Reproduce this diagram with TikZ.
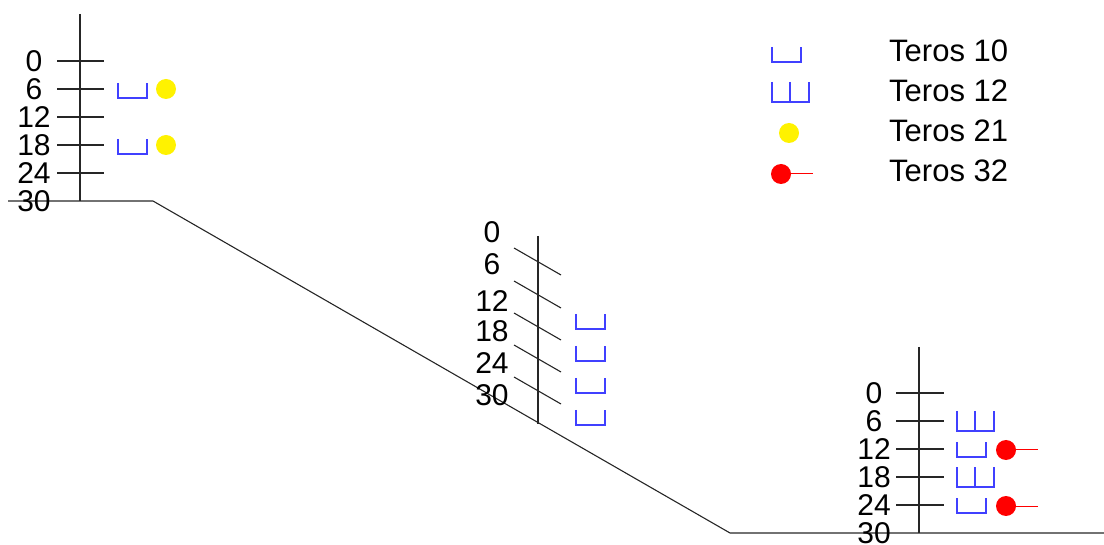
\documentclass[tikz,border=0pt]{standalone}
\usepackage{fontspec}
\setmainfont{Liberation Sans}
\definecolor{terosblue}{RGB}{64,64,255}
\tikzset{
    ground/.style={line width=1.1pt, black!85},
    sensor/.style={line width=1.4pt, terosblue},
    depth/.style={font=\fontsize{30}{30}\selectfont, inner sep=0pt},
    legendtext/.style={font=\fontsize{31}{31}\selectfont, inner sep=0pt, anchor=base west},
    teros ten/.pic={\draw[sensor] (0,0) -- (0,15) -- (29,15) -- (29,0);},
    teros twelve/.pic={\draw[sensor] (0,0) -- (0,20) -- (37,20) -- (37,0);
        \draw[sensor] (18,0) -- (18,20);},
    teros yellow/.pic={\fill[yellow] (0,0) circle[radius=10pt];},
    teros red/.pic={\draw[red, line width=1pt] (0,0) -- (32,0);
        \fill[red] (0,0) circle[radius=10pt];}
}
\begin{document}
\begin{tikzpicture}[x=1pt, y=-1pt]
    \useasboundingbox (0,0) rectangle (1104,545);

    % Ground profile: upper terrace, slope, lower terrace
    \coordinate (topleft) at (8,201);
    \coordinate (crest) at (153,201);
    \coordinate (toe) at (730,533);
    \coordinate (bottomright) at (1104,533);
    \draw[ground] (topleft) -- (crest) -- (toe) -- (bottomright);

    % Upper profile
    \begin{scope}
        \coordinate (uptop) at (80,14);
        \coordinate (upbase) at (80,201);
        \draw[ground] (uptop) -- (upbase);
        \foreach \d/\y in {0/61, 6/89, 12/117, 18/145, 24/173}
            \draw[ground] (57,\y) -- (104,\y);
        \foreach \d/\y in {0/61, 6/89, 12/117, 18/145, 24/173, 30/201}
            \node[depth] (up\d) at (34,\y) {\d};

        % Sensors
        \pic at (118,83) {teros ten};
        \pic at (166,89) {teros yellow};
        \pic at (118,139) {teros ten};
        \pic at (166,145) {teros yellow};
    \end{scope}

    % Slope profile - ticks follow the slope
    \begin{scope}
        \coordinate (midtop) at (538,236);
        \coordinate (midbase) at (538,424);
        \draw[ground] (midtop) -- (midbase);
        \foreach \y in {248, 281, 313, 345, 377}
            \draw[ground] (514,\y) -- ++(47,27);
        \foreach \d/\y in {0/232, 6/264, 12/301, 18/331, 24/363, 30/395}
            \node[depth] (mid\d) at (492,\y) {\d};

        % Sensors
        \foreach \y in {314, 346, 378, 410}
            \pic at (576,\y) {teros ten};
    \end{scope}

    % Lower profile
    \begin{scope}
        \coordinate (lowtop) at (919,347);
        \coordinate (lowbase) at (919,533);
        \draw[ground] (lowtop) -- (lowbase);
        \foreach \y in {393, 421, 449, 477, 505}
            \draw[ground] (896,\y) -- (944,\y);
        \foreach \d/\y in {0/393, 6/421, 12/449, 18/477, 24/505, 30/533}
            \node[depth] (low\d) at (874,\y) {\d};

        % Sensors
        \pic at (957,411) {teros twelve};
        \pic at (957,442) {teros ten};
        \pic at (1006,450) {teros red};
        \pic at (957,467) {teros twelve};
        \pic at (957,498) {teros ten};
        \pic at (1006,506) {teros red};
    \end{scope}

    % Legend
    \pic at (772,47) {teros ten};
    \pic at (772,82) {teros twelve};
    \pic at (789,133) {teros yellow};
    \pic at (781,174) {teros red};
    \node[legendtext] (leg10) at (889,62) {Teros 10};
    \node[legendtext] (leg12) at (889,102) {Teros 12};
    \node[legendtext] (leg21) at (889,142) {Teros 21};
    \node[legendtext] (leg32) at (889,182) {Teros 32};
\end{tikzpicture}
\end{document}
